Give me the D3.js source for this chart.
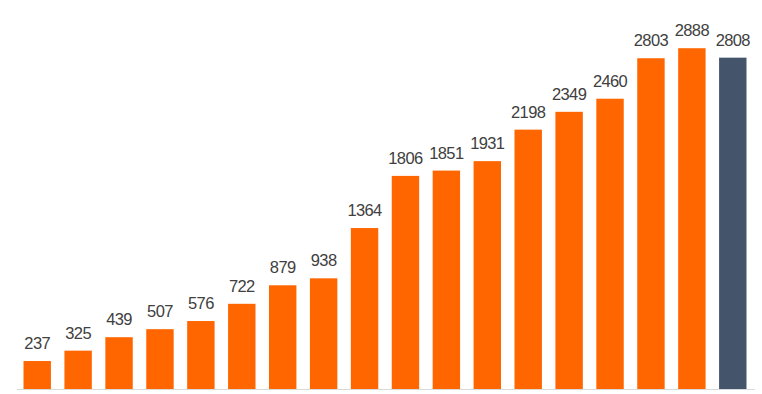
<!DOCTYPE html>
<html>
<head>
<meta charset="utf-8">
<script src="https://cdn.jsdelivr.net/npm/d3@7"></script>
<style>
  html, body { margin: 0; padding: 0; background: #fff; }
  svg { display: block; }
</style>
</head>
<body>
<div id="chart"></div>
<script>
// categories (not labelled on the chart) and values
const categories = ['1', '2', '3', '4', '5', '6', '7', '8', '9', '10', '11', '12', '13', '14', '15', '16', '17', '18'];
const values = [237, 325, 439, 507, 576, 722, 879, 938, 1364, 1806, 1851, 1931, 2198, 2349, 2460, 2803, 2888, 2808];
const highlight = ['18']; // last bar drawn in dark slate

const width = 762, height = 394;
const baseY = 389;

const svg = d3.select('#chart').append('svg')
    .attr('width', width).attr('height', height);

const x = d3.scaleBand()
    .domain(categories)
    .range([10, 760])
    .paddingInner(0.33)
    .paddingOuter(0.33);

const y = d3.scaleLinear()
    .domain([0, 3000])
    .range([baseY, 35]);

const data = categories.map((c, i) => ({ cat: c, value: values[i] }));

svg.selectAll('rect.bar')
  .data(data)
  .enter().append('rect')
    .attr('class', 'bar')
    .attr('x', d => x(d.cat))
    .attr('y', d => y(d.value))
    .attr('width', x.bandwidth())
    .attr('height', d => y(0) - y(d.value))
    .attr('fill', d => highlight.includes(d.cat) ? '#44546A' : '#FF6600');

// baseline
svg.append('line')
    .attr('x1', 17).attr('x2', 755)
    .attr('y1', baseY + 0.5).attr('y2', baseY + 0.5)
    .attr('stroke', '#d9d9d9')
    .attr('stroke-width', 1);

svg.selectAll('text.label')
  .data(data)
  .enter().append('text')
    .attr('class', 'label')
    .attr('x', d => x(d.cat) + x.bandwidth() / 2)
    .attr('y', d => y(d.value) - 12)
    .attr('text-anchor', 'middle')
    .attr('font-family', '"Liberation Sans", Arial, sans-serif')
    .attr('font-size', 16.5)
    .attr('letter-spacing', -0.6)
    .attr('fill', '#404040')
    .text(d => d.value);
</script>
</body>
</html>
